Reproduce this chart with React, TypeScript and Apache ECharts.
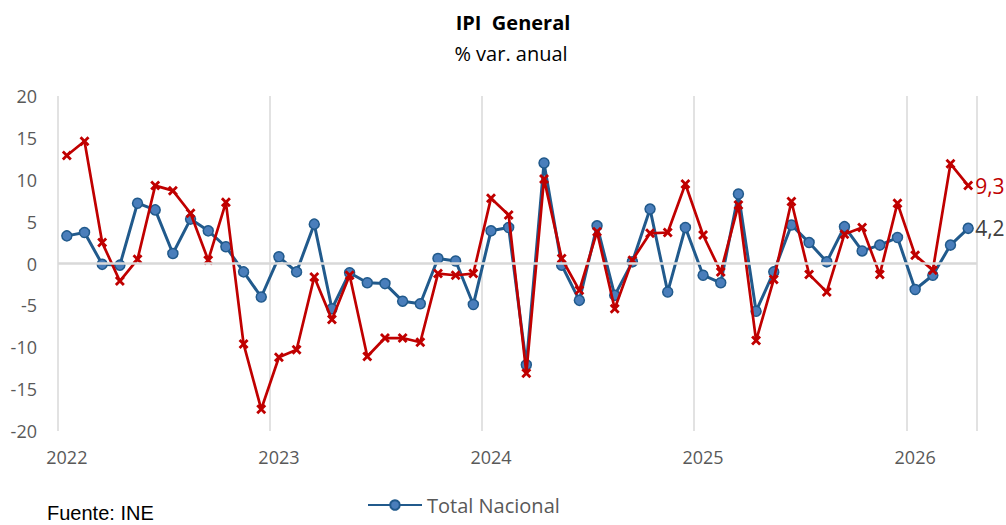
import React, { useEffect, useRef } from "react";
import * as echarts from "echarts";

const years = ["2022", "2023", "2024", "2025", "2026"];
const monthsPerYear = 12;
const categories: string[] = [];
years.forEach((y) => {
  for (let m = 1; m <= monthsPerYear; m++) {
    categories.push(`${y}-${String(m).padStart(2, "0")}`);
  }
});
const monthCount = 52; // Jan 2022 .. Apr 2026
const months = categories.slice(0, monthCount);

const totalNacional = [
  3.3, 3.7, -0.1, -0.2, 7.2, 6.4, 1.2, 5.3, 3.9, 2.0, -1.0, -4.0,
  0.8, -1.0, 4.7, -5.4, -1.1, -2.3, -2.4, -4.5, -4.8, 0.6, 0.3, -4.9,
  3.9, 4.3, -12.1, 12.0, -0.2, -4.4, 4.5, -3.8, 0.2, 6.5, -3.4, 4.3,
  -1.4, -2.3, 8.3, -5.7, -1.0, 4.6, 2.5, 0.2, 4.4, 1.5, 2.2, 3.1,
  -3.1, -1.4, 2.2, 4.2,
];

const comunidad = [
  12.9, 14.6, 2.5, -2.1, 0.5, 9.3, 8.7, 6.0, 0.4, 7.3, -9.6, -17.4,
  -11.2, -10.3, -1.6, -6.7, -1.4, -11.1, -8.9, -8.9, -9.4, -1.2, -1.4, -1.2,
  7.8, 5.8, -13.1, 10.1, 0.6, -3.2, 3.8, -5.4, 0.4, 3.6, 3.7, 9.5,
  3.4, -1.0, 7.0, -9.2, -1.9, 7.4, -1.3, -3.4, 3.5, 4.3, -1.3, 7.2,
  1.0, -0.8, 11.9, 9.3,
];

const yTicks = { min: -20, max: 20, interval: 5 };

const FONT = "'Open Sans', 'Noto Sans', sans-serif";
const X_SYMBOL =
  "path://M0,2L2,0L5,3L8,0L10,2L7,5L10,8L8,10L5,7L2,10L0,8L3,5Z";

const fmt = (v: number) => String(v).replace(".", ",");

export default function App() {
  const ref = useRef<HTMLDivElement>(null);
  useEffect(() => {
    if (!ref.current) return;
    const chart = echarts.init(ref.current, null, { renderer: "svg" });
    chart.setOption({
      animation: false,
      backgroundColor: "#ffffff",
      textStyle: { fontFamily: FONT },
      graphic: [
        {
          type: "text",
          x: 513,
          y: 22,
          style: {
            text: "IPI  General",
            font: `bold 20px ${FONT}`,
            fill: "#000000",
            align: "center",
            verticalAlign: "middle",
          },
        },
        {
          type: "text",
          x: 511,
          y: 53,
          style: {
            text: "% var. anual",
            font: `20px ${FONT}`,
            fill: "#000000",
            align: "center",
            verticalAlign: "middle",
          },
        },
        {
          type: "text",
          x: 47,
          y: 503,
          style: {
            text: "Fuente: INE",
            font: `20px 'Liberation Sans', Arial, sans-serif`,
            fill: "#000000",
            align: "left",
            verticalAlign: "top",
          },
        },
      ],
      grid: { left: 58, right: 29, top: 96, bottom: 94, containLabel: false },
      legend: {
        data: ["Total Nacional"],
        left: 362,
        top: 490,
        itemWidth: 54,
        itemHeight: 12,
        itemGap: 6,
        textStyle: { fontSize: 20, color: "#595959", fontFamily: FONT },
      },
      xAxis: {
        type: "category",
        data: months,
        boundaryGap: true,
        axisLine: { show: false },
        axisTick: { show: false },
        axisLabel: {
          interval: (i: number) => i % 12 === 0,
          formatter: (v: string) => v.slice(0, 4),
          color: "#595959",
          fontSize: 18,
          fontFamily: FONT,
          margin: 17,
        },
        splitLine: {
          show: true,
          interval: (i: number) => i % 12 === 0,
          lineStyle: { color: "#D9D9D9", width: 1.5 },
        },
      },
      yAxis: {
        type: "value",
        min: yTicks.min,
        max: yTicks.max,
        interval: yTicks.interval,
        axisLine: { show: false },
        axisTick: { show: false },
        splitLine: { show: false },
        axisLabel: {
          color: "#595959",
          fontSize: 18,
          fontFamily: FONT,
          margin: 21,
        },
      },
      series: [
        {
          name: "zero",
          type: "line",
          data: [],
          z: 1,
          silent: true,
          markLine: {
            silent: true,
            symbol: "none",
            label: { show: false },
            lineStyle: { color: "#D9D9D9", width: 2.5, type: "solid" },
            data: [{ yAxis: 0 }],
          },
        },
        {
          name: "Total Nacional",
          type: "line",
          data: totalNacional,
          z: 3,
          symbol: "circle",
          symbolSize: 10,
          lineStyle: { color: "#215A8C", width: 3 },
          itemStyle: { color: "#4A7EBB", borderColor: "#215A8C", borderWidth: 1.5 },
          endLabel: {
            show: true,
            formatter: (p: any) => fmt(p.value),
            color: "#404040",
            fontSize: 21,
            fontFamily: FONT,
            distance: 7,
          },
        },
        {
          name: "Comunidad",
          type: "line",
          data: comunidad,
          z: 4,
          symbol: X_SYMBOL,
          symbolSize: 10,
          lineStyle: { color: "#C00000", width: 2.7 },
          itemStyle: { color: "#C00000", borderColor: "#C00000", borderWidth: 0 },
          endLabel: {
            show: true,
            formatter: (p: any) => fmt(p.value),
            color: "#C00000",
            fontSize: 21,
            fontFamily: FONT,
            distance: 7,
          },
        },
      ],
    });
    return () => chart.dispose();
  }, []);
  return (
    <div
      ref={ref}
      style={{ position: "fixed", left: 0, top: 0, width: 1006, height: 525 }}
    />
  );
}
